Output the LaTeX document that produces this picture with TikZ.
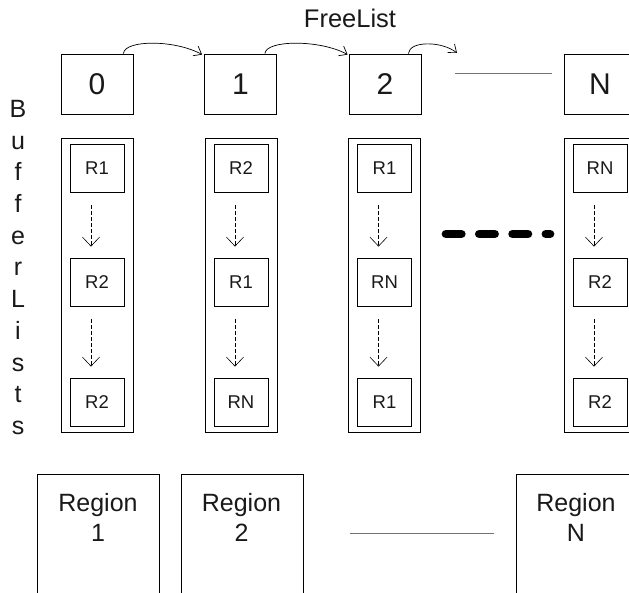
\documentclass[tikz,border=0pt]{standalone}
\usepackage{fontspec}
\setmainfont{Liberation Sans}
\usetikzlibrary{arrows.meta,calc}
\begin{document}
\begin{tikzpicture}[x=1pt,y=-1pt,
  every node/.style={text=black!90},
  topbox/.style={draw,line width=0.8pt,minimum width=72pt,minimum height=60pt,inner sep=0pt,font=\fontsize{30}{30}\selectfont},
  outerbox/.style={draw,line width=0.8pt,minimum width=72pt,minimum height=294pt,inner sep=0pt},
  itembox/.style={draw,line width=0.8pt,minimum width=54pt,minimum height=48pt,inner sep=0pt,font=\fontsize{18.5}{18.5}\selectfont},
  regbox/.style={draw,line width=0.8pt,minimum width=122pt,minimum height=140pt,inner sep=0pt,anchor=north west},
  regtext/.style={align=center,inner sep=0pt,font=\fontsize{25}{30}\selectfont},
  nextarrow/.style={line width=0.6pt,dash pattern=on 3.5pt off 2.5pt,-{Straight Barb[length=9pt,width=17pt]},shorten <=13pt,shorten >=11pt},
  freearrow/.style={line width=0.7pt,-{Straight Barb[length=7pt,width=11pt]}},
  dotline/.style={line width=0.7pt,dash pattern=on 0.4pt off 0.3pt,black!55},
  bigdash/.style={line width=8.5pt,line cap=round,dash pattern=on 15.5pt off 17.8pt}
]
\useasboundingbox (0,0) rectangle (629,592);
\clip (0,0) rectangle (629,592);

% top index boxes
\node[topbox] (t0) at (97,84) {0};
\node[topbox] (t1) at (240.5,84) {1};
\node[topbox] (t2) at (385,84) {2};
\node[topbox] (tN) at (600,84) {N};

\node[inner sep=0pt,font=\fontsize{25.5}{25.5}\selectfont] (fl) at (350,18) {FreeList};

% free list arrows
\coordinate (f3) at (457,53);
\draw[freearrow] ([xshift=-10pt]t0.north east) .. controls +(1,-14) and +(-27,-15) .. ([xshift=-2pt,yshift=-1pt]t1.north west);
\draw[freearrow] ([xshift=-12pt]t1.north east) .. controls +(1,-14) and +(-27,-15) .. ([xshift=-1pt,yshift=-1pt]t2.north west);
\draw[freearrow] ([xshift=-13pt]t2.north east) .. controls +(1,-13) and +(-15,-12) .. (f3);

\draw[dotline] ($(t2.east)+(34,-11)$) -- ($(tN.west)+(-12,-11)$);

% vertical label
\node[anchor=north,inner sep=0pt,align=center,font=\fontsize{25}{31.7}\selectfont] (bl) at (18,100)
  {B\\u\\f\\f\\e\\r\\L\\i\\s\\t\\s};

% buffer lists
\node[outerbox] (b1) at (97,285) {};
\node[outerbox] (b2) at (241,285) {};
\node[outerbox] (b3) at (384,285) {};
\node[outerbox] (b4) at (600,285) {};

\node[itembox] (c11) at (97,168) {R1};
\node[itembox] (c12) at (97,282) {R2};
\node[itembox] (c13) at (97,402) {R2};
\node[itembox] (c21) at (241,168) {R2};
\node[itembox] (c22) at (241,282) {R1};
\node[itembox] (c23) at (241,402) {RN};
\node[itembox] (c31) at (384.5,168) {R1};
\node[itembox] (c32) at (384.5,282) {RN};
\node[itembox] (c33) at (384.5,402) {R1};
\node[itembox] (c41) at (600,168) {RN};
\node[itembox] (c42) at (600,282) {R2};
\node[itembox] (c43) at (600,402) {R2};

\foreach \c in {1,2,3,4}{
  \draw[nextarrow] ([xshift=-6pt]c\c1.south) -- ([xshift=-6pt]c\c2.north);
  \draw[nextarrow] ([xshift=-6pt]c\c2.south) -- ([xshift=-6pt]c\c3.north);
}

\draw[bigdash] ($(b3.east)+(25.5,-51)$) -- ($(b4.west)+(-13.5,-51)$);

% regions
\node[regbox] (r1) at (37,474) {};
\node[regbox] (r2) at (181,474) {};
\node[regbox] (rN) at (516,474) {};
\node[regtext] (r1t) at (98,517.5) {Region\\1};
\node[regtext] (r2t) at (241.5,517.5) {Region\\2};
\node[regtext] (rNt) at (576,517.5) {Region\\N};

\draw[dotline] ($(r2.north east)+(46,59)$) -- ($(rN.north west)+(-23,59)$);
\end{tikzpicture}
\end{document}
